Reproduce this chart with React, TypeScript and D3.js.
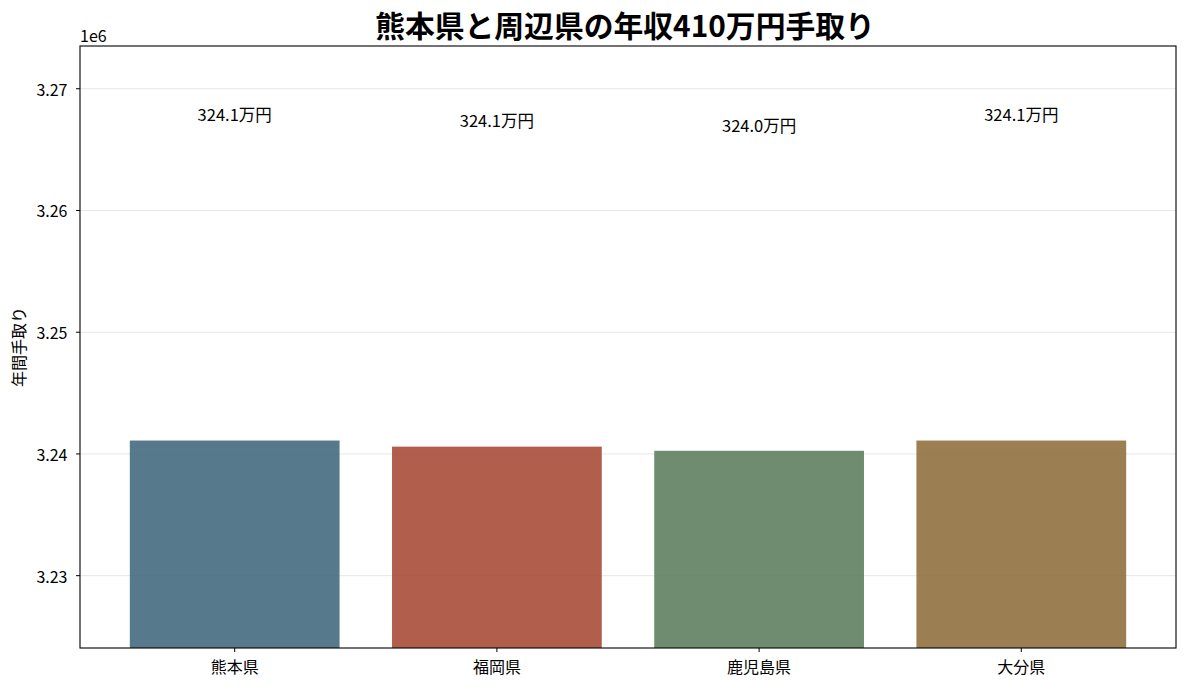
import React from "react";
import * as d3 from "d3";

const categories = ["熊本県", "福岡県", "鹿児島県", "大分県"];
const values = [3241100, 3240600, 3240260, 3241100];
const barColors = ["#446c7f", "#a94c3a", "#5f8062", "#90703e"];
const yTicks = [3230000, 3240000, 3250000, 3260000, 3270000];
const titleText = "熊本県と周辺県の年収410万円手取り";
const yLabel = "年間手取り";
const LABEL_OFFSET = 26800;

const W = 1188;
const H = 689;
const M = { left: 80, right: 1176, top: 46, bottom: 648 };
const FONT = "'Noto Sans CJK JP', 'Noto Sans', sans-serif";

export default function App() {
  const minV = d3.min(values)!;
  const maxV = d3.max(values)!;
  const y = d3.scaleLinear().domain([minV * 0.995, maxV * 1.01]).range([M.bottom, M.top]);
  const n = categories.length;
  const x = d3.scaleLinear().domain([-0.59, n - 1 + 0.59]).range([M.left, M.right]);
  const bw = x(0.4) - x(-0.4);
  const fmt = d3.format(".2f");

  return (
    <div style={{ position: "fixed", left: 0, top: 0 }}>
      <svg width={W} height={H} style={{ display: "block", background: "#fff" }} fontFamily={FONT}>
        {yTicks.map((t) => (
          <line key={"g" + t} x1={M.left} x2={M.right} y1={y(t)} y2={y(t)} stroke="#e6e6e6" strokeWidth={1} />
        ))}
        {values.map((v, i) => (
          <rect
            key={categories[i]}
            x={x(i) - bw / 2}
            y={y(v)}
            width={bw}
            height={M.bottom - y(v)}
            fill={barColors[i]}
            fillOpacity={0.9}
          />
        ))}
        {values.map((v, i) => (
          <text
            key={"l" + i}
            x={x(i)}
            y={y(v + LABEL_OFFSET)}
            textAnchor="middle"
            dominantBaseline="central"
            fontSize={16.5}
            fill="#000"
          >
            {(v / 10000).toFixed(1) + "万円"}
          </text>
        ))}
        <rect x={M.left} y={M.top} width={M.right - M.left} height={M.bottom - M.top} fill="none" stroke="#000" strokeWidth={1.1} />
        {yTicks.map((t) => (
          <g key={"t" + t}>
            <line x1={M.left - 4} x2={M.left} y1={y(t)} y2={y(t)} stroke="#000" strokeWidth={1} />
            <text x={67.5} y={y(t)} textAnchor="end" dominantBaseline="central" fontSize={16} fill="#000">
              {fmt(t / 1e6)}
            </text>
          </g>
        ))}
        {categories.map((c, i) => (
          <g key={"x" + c}>
            <line x1={x(i)} x2={x(i)} y1={M.bottom} y2={M.bottom + 4} stroke="#000" strokeWidth={1} />
            <text x={x(i)} y={666} textAnchor="middle" dominantBaseline="central" fontSize={16} fill="#000">
              {c}
            </text>
          </g>
        ))}
        <text x={M.left} y={35} textAnchor="start" dominantBaseline="central" fontSize={16} fill="#000">
          1e6
        </text>
        <text
          transform={`translate(18, ${(M.top + M.bottom) / 2}) rotate(-90)`}
          textAnchor="middle"
          dominantBaseline="central"
          fontSize={16}
          fill="#000"
        >
          {yLabel}
        </text>
        <text x={625} y={24} textAnchor="middle" dominantBaseline="central" fontSize={29.8} fontWeight="bold" fill="#000">
          {titleText}
        </text>
      </svg>
    </div>
  );
}
